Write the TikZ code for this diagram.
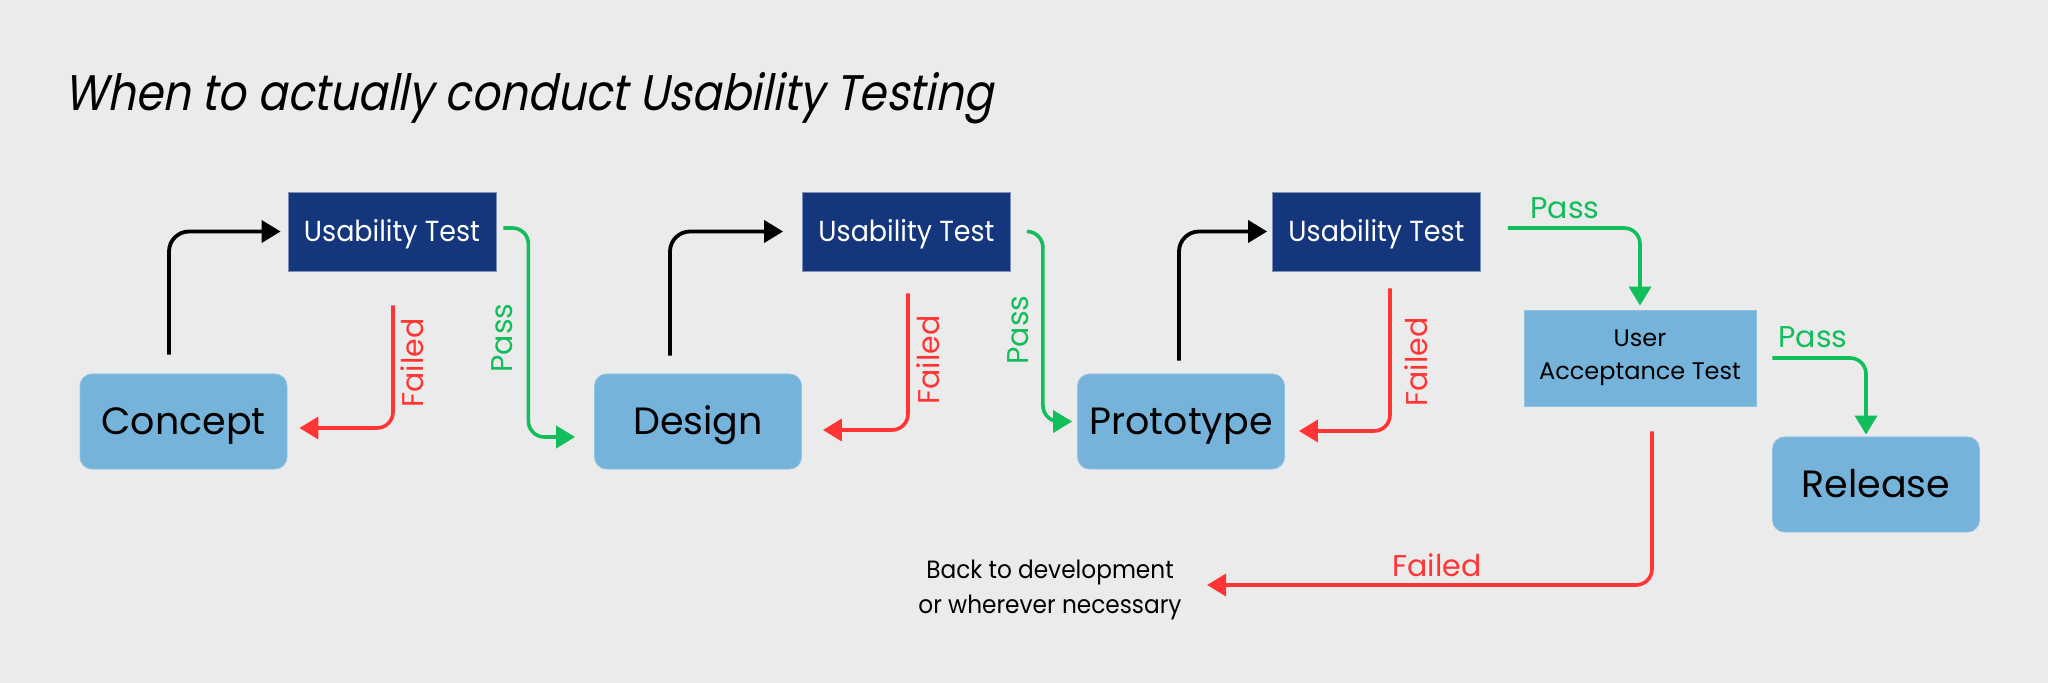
\documentclass[tikz,border=0pt]{standalone}
\usepackage{fontspec}
\setmainfont{Poppins}
\newfontfamily\titlefont[FakeSlant=0.2,FakeStretch=0.875]{Poppins}
\newfontfamily\narrowfont[FakeStretch=0.93]{Poppins}
\usetikzlibrary{arrows.meta}
\definecolor{bg}{HTML}{EBEBEB}
\definecolor{navy}{HTML}{14367C}
\definecolor{lblue}{HTML}{76B3DA}
\definecolor{pgreen}{HTML}{12BD5B}
\definecolor{fred}{HTML}{FF3535}
\begin{document}
\begin{tikzpicture}[x=0.5pt,y=-0.5pt,
  stage/.style={fill=lblue, draw=lblue!80!white, line width=0.4pt, rounded corners=6pt,
    minimum width=103.5pt, minimum height=47.5pt, inner sep=0pt,
    font=\fontsize{19}{23}\selectfont, text=black, text height=13.3pt, text depth=0pt},
  utbox/.style={fill=navy, draw=navy!55!white, line width=0.4pt,
    minimum width=104pt, minimum height=39.5pt, inner sep=0pt,
    font=\narrowfont\fontsize{14.5}{17}\selectfont, text=white, text height=10.1pt, text depth=0pt},
  uatbox/.style={fill=lblue, draw=lblue!80!white, line width=0.4pt,
    minimum width=116pt, minimum height=48pt, inner sep=0pt, align=center,
    font=\fontsize{12}{16.5}\selectfont, text=black},
  tipT/.tip={Triangle[length=9.5pt,width=11pt]},
  blk/.style={draw=black, line width=1.9pt, rounded corners=10pt, -tipT},
  grn/.style={draw=pgreen, line width=1.8pt, rounded corners=8pt, -tipT},
  rd/.style={draw=fred, line width=1.8pt, rounded corners=8pt, -tipT},
  vlab/.style={rotate=90, inner sep=0pt, font=\fontsize{15}{18}\selectfont},
  hlab/.style={inner sep=0pt, font=\fontsize{15}{18}\selectfont}
]
\useasboundingbox (0,0) rectangle (2048,683);
\fill[bg] (0,0) rectangle (2048,683);

% title
\node[anchor=base west, inner sep=0pt, font=\titlefont\fontsize{25}{30}\selectfont] (title) at (64,111)
  {When to actually conduct Usability Testing};

% nodes
\node[stage] (concept) at (183.5,421.5) {Concept};
\node[stage] (design) at (698,421.5) {Design};
\node[stage] (proto) at (1181,421.5) {Prototype};
\node[stage] (release) at (1876,484.5) {Release};
\node[utbox] (ut1) at (392,231.5) {Usability Test};
\node[utbox] (ut2) at (906.5,231.5) {Usability Test};
\node[utbox] (ut3) at (1376.5,231.5) {Usability Test};
\node[uatbox] (uat) at (1640,358) {User\\Acceptance Test};
\node[align=center, inner sep=0pt, font=\narrowfont\fontsize{12.5}{17.5}\selectfont] (back) at (1050,590)
  {Back to development\\or wherever necessary};
\coordinate (backin) at (1207,585);

% black arrows to usability tests
\draw[blk] ([xshift=-7.25pt,yshift=9.5pt]concept.north) |- ([xshift=-3.5pt]ut1.west);
\draw[blk] ([xshift=-14pt,yshift=9pt]design.north) |- ([xshift=-9.5pt]ut2.west);
\draw[blk] ([xshift=-1pt,yshift=6.5pt]proto.north) |- ([xshift=-2.5pt]ut3.west);

% failed arrows
\draw[rd] ([xshift=0.5pt,yshift=-17pt]ut1.south) |- ([xshift=6pt,yshift=-3.25pt]concept.east);
\draw[rd] ([xshift=0.75pt,yshift=-11pt]ut2.south) |- ([xshift=10.5pt,yshift=-4.25pt]design.east);
\draw[rd] ([xshift=6.75pt,yshift=-8.5pt]ut3.south) |- ([xshift=7pt,yshift=-4.75pt]proto.east);
\draw[rd] ([xshift=6pt,yshift=-12.5pt]uat.south) |- (backin);

% pass arrows
\draw[grn] ([xshift=3.5pt,yshift=1.75pt]ut1.east) -- ++(12.5pt,0) |- ([xshift=-9.5pt,yshift=-7.75pt]design.west);
\draw[grn] ([xshift=8pt]ut2.east) -- ++(8pt,0) |- ([xshift=-2.5pt]proto.west);
\draw[grn] ([xshift=13.5pt,yshift=1.75pt]ut3.east) -| ([yshift=2pt]uat.north);
\draw[grn] ([xshift=8pt]uat.east) -| ([xshift=-5pt,yshift=1pt]release.north);

% labels
\node[vlab, text=fred] (f1) at (412,363) {Failed};
\node[vlab, text=fred] (f2) at (928,360) {Failed};
\node[vlab, text=fred] (f3) at (1416,362) {Failed};
\node[hlab, text=fred] (f4) at (1437,565) {Failed};
\node[vlab, text=pgreen] (p1) at (502,338) {Pass};
\node[vlab, text=pgreen] (p2) at (1018,330) {Pass};
\node[hlab, text=pgreen] (p3) at (1565,208) {Pass};
\node[hlab, text=pgreen] (p4) at (1813,337) {Pass};
\end{tikzpicture}
\end{document}
